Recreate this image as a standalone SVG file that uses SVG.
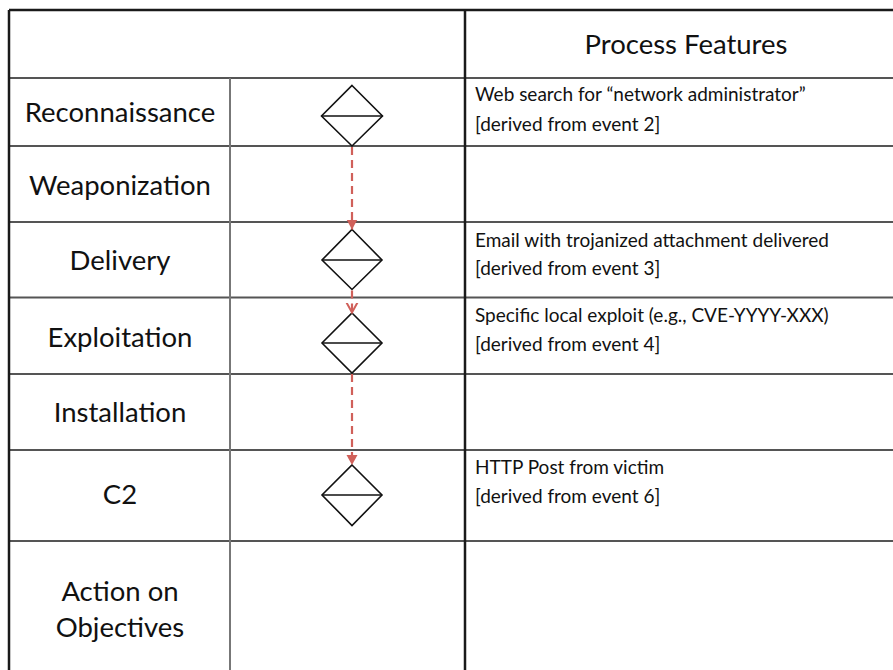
<svg xmlns="http://www.w3.org/2000/svg" width="893" height="670" viewBox="0 0 893 670">
  <defs>
    <style>
      .border { stroke: #1a1a1a; stroke-width: 2.5; fill: none; }
      .row { stroke: #555; stroke-width: 2; fill: none; }
      .col { stroke: #777; stroke-width: 2; fill: none; }
      .stage { font-family: Lato, "Liberation Sans", sans-serif; font-size: 27.5px; fill: #111; text-anchor: middle; }
      .feat { font-family: Lato, "Liberation Sans", sans-serif; font-size: 19px; fill: #111; }
      .diamond { fill: #fff; stroke: #111; stroke-width: 1.6; }
      .flow { stroke: #d0605a; stroke-width: 2.2; stroke-dasharray: 8 5; fill: none; }
    </style>
    <marker id="tri" markerWidth="10" markerHeight="12" refX="10" refY="6" orient="auto" markerUnits="userSpaceOnUse">
      <path d="M0,0.5 L10,6 L0,11.5 Z" fill="#d0605a"/>
    </marker>
    <marker id="vee" markerWidth="11" markerHeight="14" refX="10" refY="7" orient="auto" markerUnits="userSpaceOnUse">
      <path d="M0,1.5 L10,7 L0,12.5" fill="none" stroke="#d0605a" stroke-width="2"/>
    </marker>
  </defs>
  <rect width="893" height="670" fill="#fff"/>

  <g id="grid">
    <line class="row" x1="9" y1="78" x2="893" y2="78"/>
    <line class="row" x1="9" y1="146" x2="893" y2="146"/>
    <line class="row" x1="9" y1="222" x2="893" y2="222"/>
    <line class="row" x1="9" y1="297.5" x2="893" y2="297.5"/>
    <line class="row" x1="9" y1="374" x2="893" y2="374"/>
    <line class="row" x1="9" y1="450" x2="893" y2="450"/>
    <line class="row" x1="9" y1="541" x2="893" y2="541"/>
    <line class="col" x1="230" y1="78" x2="230" y2="670"/>
    <line class="border" x1="465" y1="10" x2="465" y2="670"/>
    <line class="border" x1="9" y1="10" x2="893" y2="10"/>
    <line class="border" x1="9" y1="10" x2="9" y2="670"/>
  </g>

  <g id="header">
    <text class="stage" x="686" y="54">Process Features</text>
  </g>

  <g id="reconnaissance">
    <text class="stage" x="120" y="122">Reconnaissance</text>
    <polygon class="diamond" points="352,85.5 382.5,116 352,146 321.5,116"/>
    <line x1="321.5" y1="116" x2="382.5" y2="116" stroke="#111" stroke-width="1.6"/>
    <text class="feat" x="475" y="101">Web search for “network administrator”</text>
    <text class="feat" x="475" y="131">[derived from event 2]</text>
  </g>

  <g id="weaponization">
    <text class="stage" x="120" y="195">Weaponization</text>
  </g>

  <g id="delivery">
    <text class="stage" x="120" y="270">Delivery</text>
    <polygon class="diamond" points="352,229.5 382,260 352,289.5 322,260"/>
    <line x1="322" y1="260" x2="382" y2="260" stroke="#111" stroke-width="1.6"/>
    <text class="feat" x="475" y="247">Email with trojanized attachment delivered</text>
    <text class="feat" x="475" y="275">[derived from event 3]</text>
  </g>

  <g id="exploitation">
    <text class="stage" x="120" y="347">Exploitation</text>
    <polygon class="diamond" points="352,313 382,343 352,373 322,343"/>
    <line x1="322" y1="343" x2="382" y2="343" stroke="#111" stroke-width="1.6"/>
    <text class="feat" x="475" y="322">Specific local exploit (e.g., CVE-YYYY-XXX)</text>
    <text class="feat" x="475" y="351">[derived from event 4]</text>
  </g>

  <g id="installation">
    <text class="stage" x="120" y="422">Installation</text>
  </g>

  <g id="c2">
    <text class="stage" x="120" y="504">C2</text>
    <polygon class="diamond" points="352,465 382,495 352,525.5 322,495"/>
    <line x1="322" y1="495" x2="382" y2="495" stroke="#111" stroke-width="1.6"/>
    <text class="feat" x="475" y="474">HTTP Post from victim</text>
    <text class="feat" x="475" y="503">[derived from event 6]</text>
  </g>

  <g id="action-on-objectives">
    <text class="stage" x="120" y="601">Action on</text>
    <text class="stage" x="120" y="637">Objectives</text>
  </g>

  <g id="connectors">
    <line class="flow" x1="352" y1="147" x2="352" y2="229.5" marker-end="url(#tri)"/>
    <line class="flow" x1="352" y1="290.5" x2="352" y2="312.5" marker-end="url(#vee)"/>
    <line class="flow" x1="352" y1="374" x2="352" y2="465" marker-end="url(#tri)"/>
  </g>
</svg>
